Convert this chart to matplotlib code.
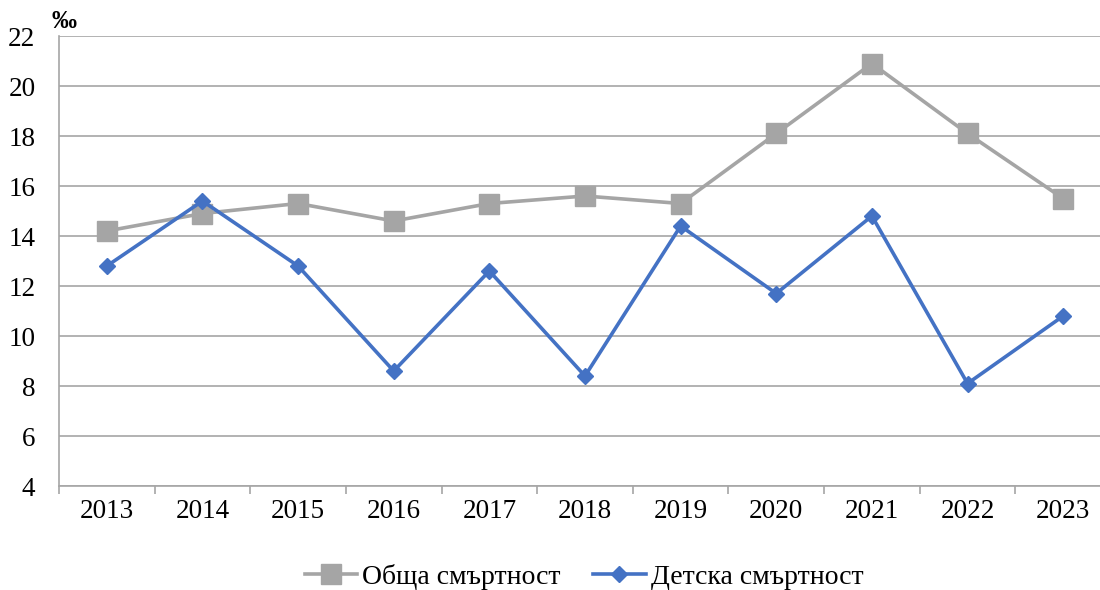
import matplotlib
matplotlib.use("Agg")
import matplotlib.pyplot as plt
from matplotlib.ticker import MultipleLocator, FixedLocator

plt.rcParams['font.family'] = ['Liberation Serif', 'DejaVu Serif']

years = ["2013", "2014", "2015", "2016", "2017", "2018", "2019", "2020", "2021", "2022", "2023"]
# обща смъртност (‰)
total_mort = [14.2, 14.9, 15.3, 14.6, 15.3, 15.6, 15.3, 18.1, 20.9, 18.1, 15.5]
# детска смъртност (‰)
infant_mort = [12.8, 15.4, 12.8, 8.6, 12.6, 8.4, 14.4, 11.7, 14.8, 8.1, 10.8]

gray = "#a5a5a5"
blue = "#4472c4"
grid_c = "#a6a6a6"

fig = plt.figure(figsize=(11, 5.9), dpi=100)
# axes runs a bit past the right edge, like in the original
ax = fig.add_axes([59 / 1100, 104 / 590, 1052 / 1100, 450 / 590])

x = list(range(len(years)))
ax.plot(x, total_mort, color=gray, lw=2.6, marker="s", ms=14,
        label="Обща смъртност", zorder=3)
ax.plot(x, infant_mort, color=blue, lw=2.6, marker="D", ms=8.5,
        label="Детска смъртност", zorder=4)

ax.set_xlim(-0.5, len(years) - 0.5)
ax.set_ylim(4, 22)
ax.yaxis.set_major_locator(MultipleLocator(2))
ax.set_xticks(x)
ax.set_xticklabels(years)
ax.xaxis.set_minor_locator(FixedLocator([i - 0.5 for i in range(len(years) + 1)]))

ax.grid(axis="y", color=grid_c, lw=1.2)
ax.set_axisbelow(True)
for s in ["top", "right"]:
    ax.spines[s].set_visible(False)
for s in ["left", "bottom"]:
    ax.spines[s].set_color(grid_c)
    ax.spines[s].set_linewidth(1.2)

ax.tick_params(axis="y", length=0, pad=17, labelsize=19.5)
ax.tick_params(axis="x", which="major", length=0, pad=9, labelsize=19.5)
ax.tick_params(axis="x", which="minor", length=6, width=1.2, color=grid_c)

fig.text(52 / 1100, 1 - 22 / 590, "‰", fontsize=18, fontweight="bold", va="center", ha="left")

fig.legend(loc="center", bbox_to_anchor=(584 / 1100, 1 - 577 / 590), ncol=2,
           frameon=False, fontsize=20, handlelength=1.9, columnspacing=1.15,
           handletextpad=0.18)

fig.savefig("out.png", dpi=100)
